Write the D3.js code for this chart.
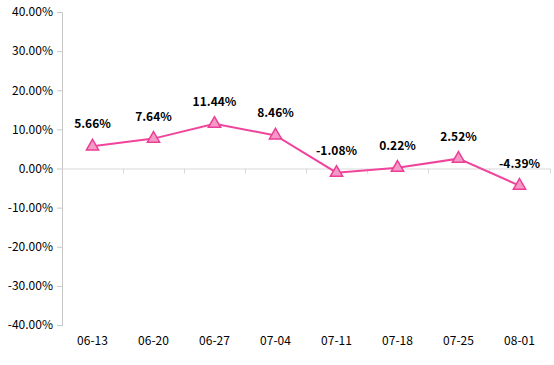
<!DOCTYPE html>
<html><head><meta charset="utf-8">
<script src="https://cdn.jsdelivr.net/npm/d3@7"></script>
<style>body{margin:0;background:#fff;}svg{display:block;font-family:"Noto Sans CJK SC","Noto Sans",sans-serif;}</style>
</head><body><svg id="c" width="554" height="365"></svg>
<script>
const categories = ["06-13","06-20","06-27","07-04","07-11","07-18","07-25","08-01"];
const values = [5.66, 7.64, 11.44, 8.46, -1.08, 0.22, 2.52, -4.39];
const yTicks = [40,30,20,10,0,-10,-20,-30,-40];

(function(){
const svg = d3.select("#c");
const mLeft = 62, mRight = 550, mTop = 12, mBottom = 325;
const x = d3.scaleBand().domain(categories).range([mLeft, mRight]);
const y = d3.scaleLinear().domain([-40, 40]).range([mBottom, mTop]);
const axisColor = "#c8c8c8";

// y axis
const ya = svg.append("g").attr("transform", `translate(${mLeft},0)`)
  .call(d3.axisLeft(y).tickValues(yTicks).tickSize(5).tickPadding(4).tickFormat(d => d.toFixed(2) + "%"));
ya.select(".domain").attr("stroke", axisColor).attr("stroke-width", 1);
ya.selectAll(".tick line").attr("stroke", axisColor);
ya.selectAll(".tick text").attr("fill", "#000").style("font-size", "12px")
  .style("font-family", '"Noto Sans CJK SC","Noto Sans",sans-serif');

// x axis at zero
const xa = svg.append("g").attr("transform", `translate(0,${y(0)})`)
  .call(d3.axisBottom(x).tickSize(0).tickFormat(""));
xa.select(".domain").attr("stroke", "#d9d9d9").attr("stroke-width", 1);
// boundary ticks
const bounds = categories.map(c => x(c)).concat([mRight]).slice(1);
svg.append("g").selectAll("line").data(bounds).join("line")
  .attr("x1", d => d + 0.5).attr("x2", d => d + 0.5)
  .attr("y1", y(0)).attr("y2", y(0) + 5)
  .attr("stroke", "#d9d9d9");

// category labels at bottom
svg.append("g").selectAll("text").data(categories).join("text")
  .attr("x", d => x(d) + x.bandwidth() / 2)
  .attr("y", 345)
  .attr("text-anchor", "middle")
  .style("font-size", "12px")
  .attr("fill", "#000")
  .text(d => d);

const pts = categories.map((c, i) => ({c, v: values[i]}));
const line = d3.line().x(d => x(d.c) + x.bandwidth() / 2).y(d => y(d.v));
svg.append("path").datum(pts).attr("d", line)
  .attr("fill", "none").attr("stroke", "#f0449c").attr("stroke-width", 2);

const tri = d3.symbol().type(d3.symbolTriangle).size(65);
svg.append("g").selectAll("path").data(pts).join("path")
  .attr("d", tri)
  .attr("transform", d => `translate(${x(d.c) + x.bandwidth() / 2},${y(d.v)})`)
  .attr("fill", "#f59ac6").attr("stroke", "#ec3d97").attr("stroke-width", 1.5);

svg.append("g").selectAll("text").data(pts).join("text")
  .attr("x", d => x(d.c) + x.bandwidth() / 2)
  .attr("y", d => y(d.v) - 18)
  .attr("text-anchor", "middle")
  .style("font-size", "12px").style("font-weight", "bold")
  .attr("fill", "#000")
  .text(d => d.v.toFixed(2) + "%");
})();
</script></body></html>
